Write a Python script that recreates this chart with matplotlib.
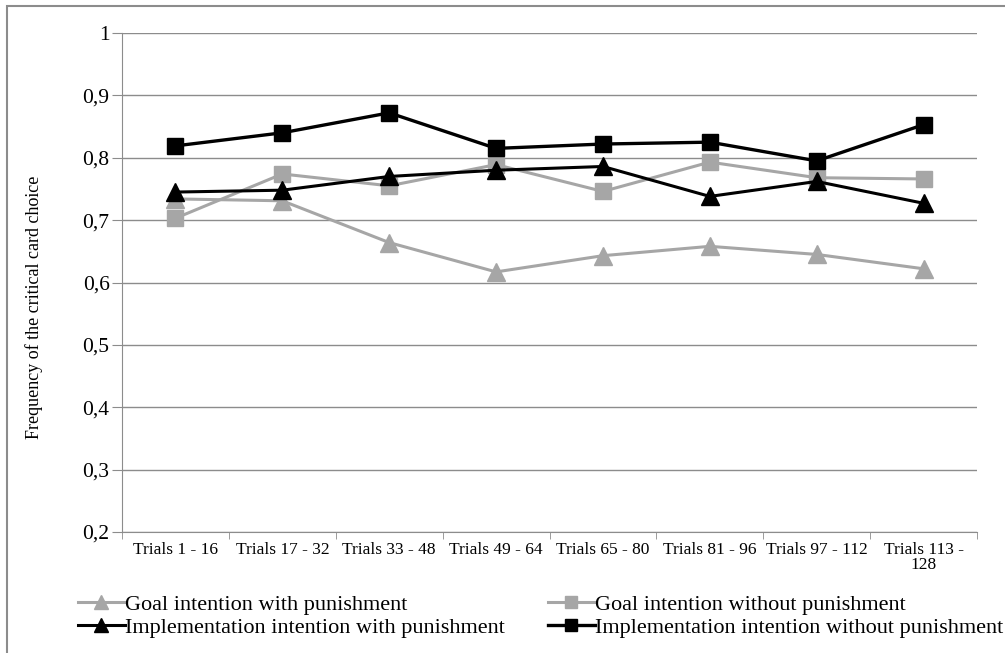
import numpy as np
from matplotlib import pyplot as plt

# Data #
categories = ["Trials 1 - 16", "Trials 17 - 32", "Trials 33 - 48", "Trials 49 - 64",
              "Trials 65 - 80", "Trials 81 - 96", "Trials 97 - 112", "Trials 113 -\n128"]
goal_with = [0.734, 0.731, 0.664, 0.617, 0.643, 0.658, 0.645, 0.622]
goal_without = [0.703, 0.774, 0.755, 0.789, 0.746, 0.793, 0.768, 0.766]
impl_with = [0.745, 0.748, 0.770, 0.780, 0.786, 0.738, 0.762, 0.727]
impl_without = [0.819, 0.840, 0.872, 0.815, 0.822, 0.825, 0.795, 0.853]
y_ticks = [0.2, 0.3, 0.4, 0.5, 0.6, 0.7, 0.8, 0.9, 1.0]
y_tick_labels = ["0,2", "0,3", "0,4", "0,5", "0,6", "0,7", "0,8", "0,9", "1"]

plt.rcParams['font.family'] = ['Liberation Serif', 'DejaVu Serif']

W, H = 1005, 653
fig = plt.figure(figsize=(W / 100, H / 100), dpi=100)
ax = fig.add_axes([122 / W, 1 - 532 / H, (977 - 122) / W, (532 - 33) / H])

# Outer border of the chart area (runs off the right and bottom edges).
fig.patches.append(plt.Rectangle((7 / W, -0.05), 1.2, 1 - 6 / H + 0.05, transform=fig.transFigure,
                                 fill=False, edgecolor='#8c8c8c', linewidth=1.5))

x = np.arange(len(categories))
gray = '#a6a6a6'
l1, = ax.plot(x, goal_with, color=gray, linewidth=2.2, marker='^', markersize=13,
              label="Goal intention with punishment", zorder=3)
l3, = ax.plot(x, goal_without, color=gray, linewidth=2.2, marker='s', markersize=12,
              label="Goal intention without punishment", zorder=3)
l2, = ax.plot(x, impl_with, color='black', linewidth=2.2, marker='^', markersize=13,
              label="Implementation intention with punishment", zorder=4)
l4, = ax.plot(x, impl_without, color='black', linewidth=2.4, marker='s', markersize=12,
              label="Implementation intention without punishment", zorder=4)

ax.set_xlim(-0.5, len(categories) - 0.5)
ax.set_ylim(0.2, 1.0)
ax.set_yticks(y_ticks)
ax.set_yticklabels(y_tick_labels, fontsize=15.5)
ax.set_xticks(x)
ax.set_xticklabels(categories, fontsize=12.5, linespacing=0.9)
ax.tick_params(axis='x', length=0, pad=7)
ax.tick_params(axis='y', length=7, color='#8c8c8c', pad=2)
# Boundary ticks between categories.
ax.set_xticks(np.arange(-0.5, len(categories)), minor=True)
ax.tick_params(axis='x', which='minor', length=5, color='#8c8c8c')

ax.grid(True, axis='y', color='#8c8c8c', linewidth=1)
ax.set_axisbelow(True)
for side in ['top', 'right']:
    ax.spines[side].set_visible(False)
for side in ['left', 'bottom']:
    ax.spines[side].set_color('#8c8c8c')

ax.set_ylabel("Frequency of the critical card choice", fontsize=13)
ax.yaxis.set_label_coords(-0.092, 0.451)

legend_kw = dict(loc='center left', frameon=False, fontsize=16, handlelength=2.1,
                 handletextpad=0.0, labelspacing=0.12, borderaxespad=0, borderpad=0,
                 markerscale=0.75)
fig.legend(handles=[l1, l2], bbox_to_anchor=(78 / W, 1 - 616 / H), **legend_kw)
fig.legend(handles=[l3, l4], bbox_to_anchor=(548 / W, 1 - 616 / H), **legend_kw)

plt.savefig("out.png", dpi=100)
